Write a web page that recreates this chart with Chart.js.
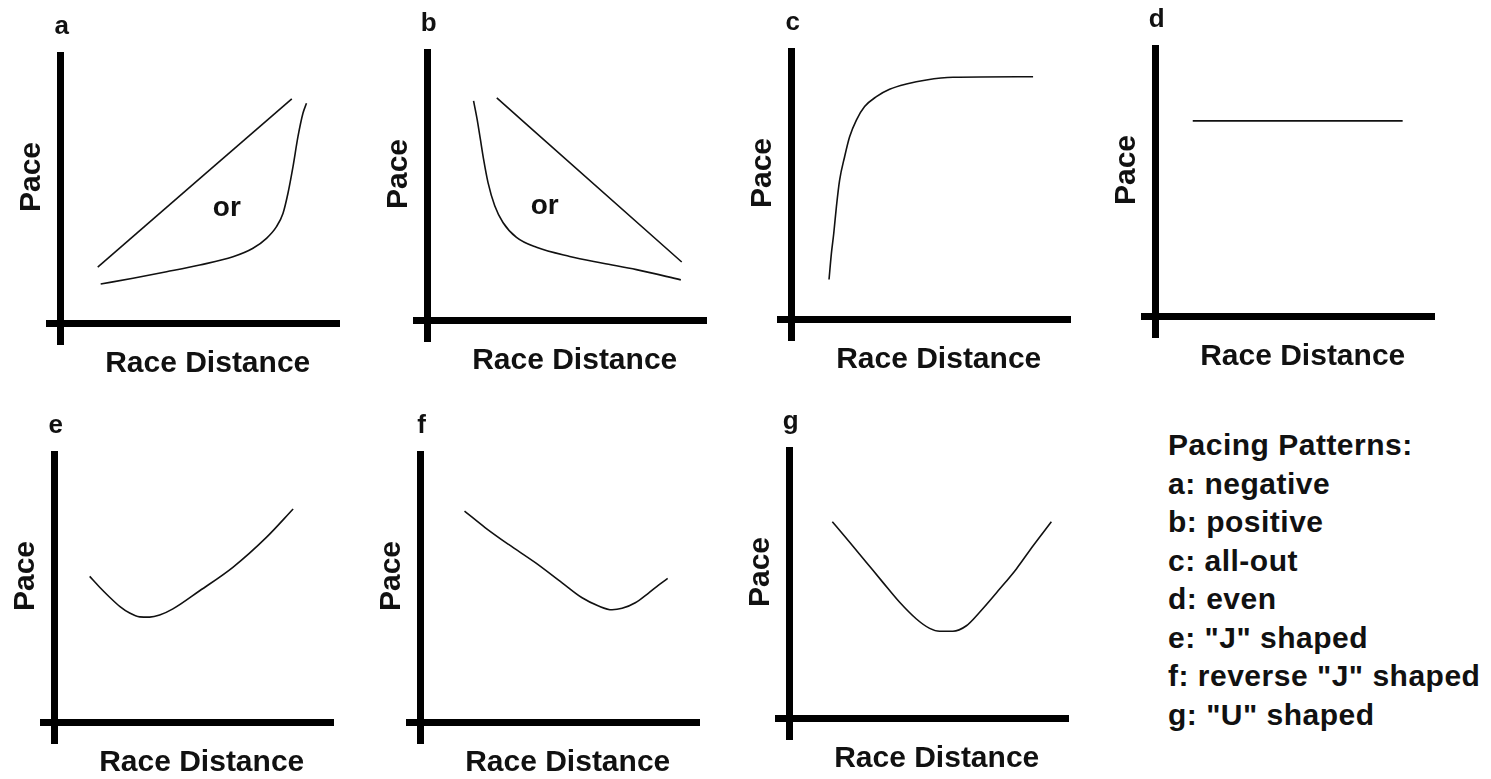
<!DOCTYPE html>
<html>
<head>
<meta charset="utf-8">
<title>Pacing Patterns</title>
<script src="https://cdn.jsdelivr.net/npm/chart.js@4.4.1/dist/chart.umd.min.js"></script>
<style>
  html, body { margin: 0; padding: 0; background: #fff; overflow: hidden; }
  body { width: 1491px; height: 779px; position: relative; }
  canvas { position: absolute; }
  #key {
    position: absolute; left: 1168px; top: 426px;
    font: bold 30px "Liberation Sans", Arial, sans-serif;
    letter-spacing: 0.5px;
    line-height: 38.5px; color: #111; white-space: nowrap;
  }
</style>
</head>
<body>
<canvas id="pa" width="360" height="380"></canvas>
<canvas id="pb" width="360" height="380"></canvas>
<canvas id="pc" width="360" height="380"></canvas>
<canvas id="pd" width="360" height="380"></canvas>
<canvas id="pe" width="360" height="380"></canvas>
<canvas id="pf" width="360" height="380"></canvas>
<canvas id="pg" width="360" height="380"></canvas>
<div id="key"></div>
<script>
// axis titles
const xTitle = 'Race Distance';
const yTitle = 'Pace';

// a: negative (straight line or late surge)
const aLineX = [12.6, 78.6];
const aLineY = [19.1, 76.5];
const aCurveX = [13.6, 24.6, 36.0, 47.3, 58.6, 65.4, 70.0, 73.4, 75.6, 77.3, 79.0, 80.7, 82.4, 83.6];
const aCurveY = [13.3, 15.3, 17.5, 19.8, 22.6, 25.5, 28.9, 32.9, 37.4, 44.3, 53.3, 63.6, 71.6, 75.0];

// b: positive
const bLineX = [23.5, 86.4];
const bLineY = [75.8, 19.8];
const bCurveX = [15.6, 16.8, 17.9, 19.0, 20.5, 22.8, 25.6, 30.2, 37.0, 48.3, 59.6, 71.0, 86.1];
const bCurveY = [74.8, 68.6, 61.8, 54.9, 47.0, 39.0, 33.3, 28.2, 24.8, 21.7, 19.4, 17.2, 13.7];

// c: all-out
const cX = [12.7, 13.5, 14.3, 15.2, 16.3, 18.0, 19.7, 22.0, 24.8, 28.8, 33.3, 39.0, 45.8, 54.9, 82.1];
const cY = [13.5, 22.4, 29.2, 38.3, 47.4, 55.4, 62.2, 67.9, 72.5, 75.9, 78.4, 80.2, 81.6, 82.5, 82.7];

// d: even
const dX = [12.6, 84.0];
const dY = [66.6, 66.6];

// e: "J" shaped
const eX = [11.9, 15.3, 18.7, 22.1, 25.5, 28.9, 32.3, 35.7, 40.2, 49.3, 60.6, 72.0, 81.1];
const eY = [49.7, 46.0, 42.6, 39.5, 37.2, 35.9, 35.8, 36.5, 38.6, 44.8, 52.8, 63.0, 72.7];

// f: reverse "J" shaped
const fX = [14.9, 22.0, 29.9, 39.0, 48.1, 54.9, 60.5, 65.1, 68.5, 73.0, 77.6, 81.0, 84.0];
const fY = [72.0, 66.3, 60.6, 54.4, 47.5, 42.4, 39.6, 38.3, 38.8, 40.7, 44.1, 46.8, 49.0];

// g: "U" shaped
const gX = [14.5, 20.4, 26.1, 31.7, 37.4, 43.1, 47.6, 51.0, 55.5, 60.1, 64.6, 71.4, 77.1, 82.8, 89.0];
const gY = [67.0, 60.0, 53.1, 46.3, 39.5, 33.8, 30.6, 29.6, 29.6, 31.5, 36.1, 44.0, 50.9, 58.8, 67.0];

const patternLabels = [
  'Pacing Patterns:',
  'a: negative',
  'b: positive',
  'c: all-out',
  'd: even',
  'e: "J" shaped',
  'f: reverse "J" shaped',
  'g: "U" shaped'
];

const FONT = '"Liberation Sans", Arial, sans-serif';
const INK = '#111';

// panel letter, axis titles and the "or" note
const panelText = {
  id: 'panelText',
  afterDraw(chart, args, opts) {
    const {ctx, chartArea: area, scales: {x, y}} = chart;
    const x0 = x.getPixelForValue(0);
    ctx.save();
    ctx.fillStyle = INK;
    ctx.textAlign = 'center';
    ctx.textBaseline = 'alphabetic';
    ctx.font = 'bold 26px ' + FONT;
    ctx.fillText(opts.letter, x0 + 1, area.top - 18);

    ctx.textBaseline = 'middle';
    ctx.font = 'bold 30px ' + FONT;
    ctx.fillText(xTitle, x0 + 147, area.bottom + 19);

    ctx.save();
    ctx.translate(x0 - 29, area.top + 125);
    ctx.rotate(-Math.PI / 2);
    ctx.fillText(yTitle, 0, 0);
    ctx.restore();

    if (opts.note) {
      ctx.font = 'bold 28px ' + FONT;
      ctx.fillText(opts.note.text, x.getPixelForValue(opts.note.x), y.getPixelForValue(opts.note.y));
    }
    ctx.restore();
  }
};

function toPoints(xs, ys) {
  return xs.map((v, i) => ({x: v, y: ys[i]}));
}

function axisAtZero(scale) {
  scale.ticks = [{value: 0}];
}

function makePanel(id, left, top, letter, series, note) {
  const canvas = document.getElementById(id);
  canvas.style.left = (left - 40) + 'px';
  canvas.style.top = (top - 45) + 'px';
  return new Chart(canvas, {
    type: 'line',
    data: {
      datasets: series.map(s => ({
        data: toPoints(s[0], s[1]),
        borderColor: INK,
        borderWidth: 1.6,
        pointRadius: 0,
        fill: false,
        cubicInterpolationMode: 'monotone'
      }))
    },
    options: {
      responsive: false,
      animation: false,
      events: [],
      layout: {padding: {left: 40, top: 45, right: 26, bottom: 42}},
      scales: {
        x: {
          type: 'linear', min: -5, max: 95,
          afterBuildTicks: axisAtZero,
          ticks: {display: false},
          border: {display: false},
          grid: {color: '#000', lineWidth: 7, drawTicks: false}
        },
        y: {
          type: 'linear', min: -7.5, max: 92.5,
          afterBuildTicks: axisAtZero,
          ticks: {display: false},
          border: {display: false},
          grid: {color: '#000', lineWidth: 7, drawTicks: false}
        }
      },
      plugins: {
        legend: {display: false},
        tooltip: {enabled: false},
        panelText: {letter: letter, note: note}
      }
    },
    plugins: [panelText]
  });
}

makePanel('pa', 46, 52, 'a', [[aLineX, aLineY], [aCurveX, aCurveY]], {text: 'or', x: 56.5, y: 39.2});
makePanel('pb', 413, 49, 'b', [[bLineX, bLineY], [bCurveX, bCurveY]], {text: 'or', x: 39.8, y: 38.9});
makePanel('pc', 777, 48, 'c', [[cX, cY]]);
makePanel('pd', 1141, 45, 'd', [[dX, dY]]);
makePanel('pe', 40, 451, 'e', [[eX, eY]]);
makePanel('pf', 406, 451, 'f', [[fX, fY]]);
makePanel('pg', 775, 447, 'g', [[gX, gY]]);

const key = document.getElementById('key');
patternLabels.forEach(t => {
  const line = document.createElement('div');
  line.textContent = t;
  key.appendChild(line);
});
</script>
</body>
</html>
